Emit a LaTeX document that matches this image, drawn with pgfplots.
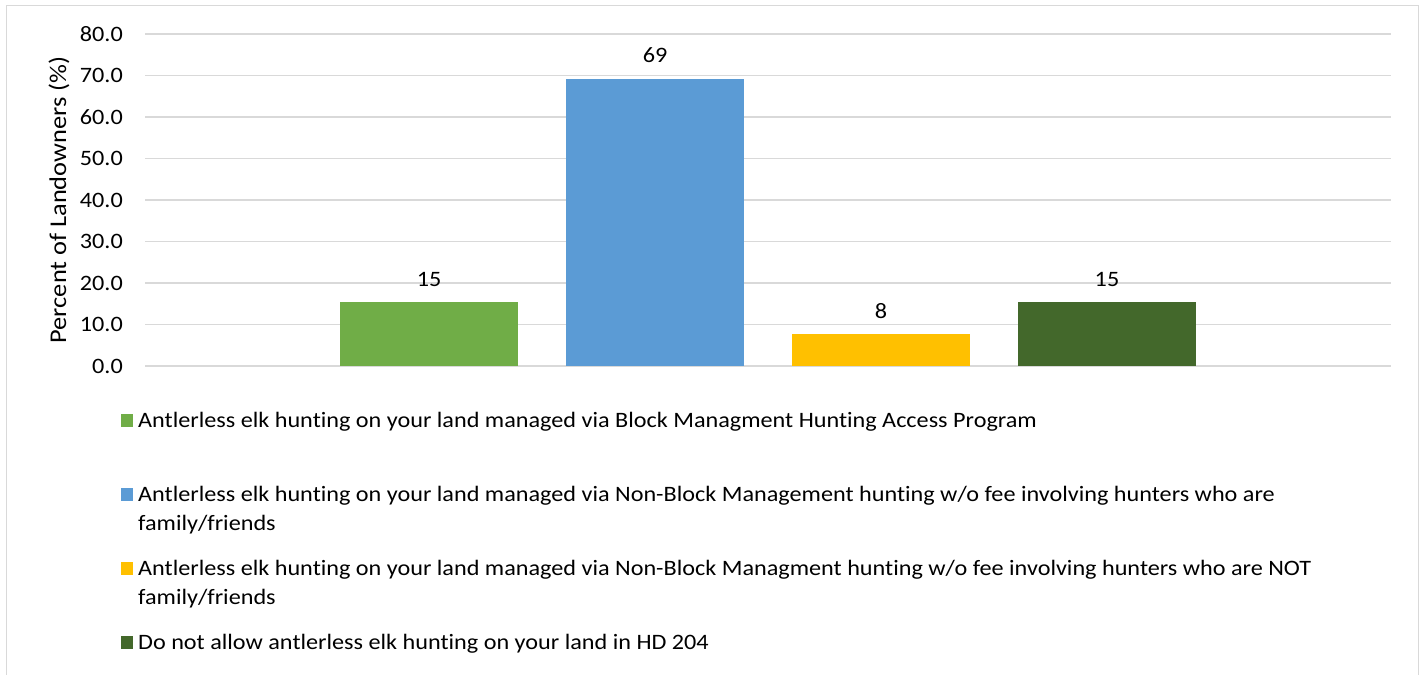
\documentclass[border=0pt]{standalone}
\usepackage{pgfplots}
\pgfplotsset{compat=1.18}
\usepackage{fontspec}
\setmainfont{Carlito}[FakeStretch=1.1, Ligatures=NoCommon]

\definecolor{cgreen}{HTML}{70AD47}
\definecolor{cblue}{HTML}{5B9BD5}
\definecolor{cgold}{HTML}{FFC000}
\definecolor{cdark}{HTML}{43682B}
\definecolor{gridgray}{HTML}{D9D9D9}

\newcommand{\chartfont}{\fontsize{22bp}{29bp}\selectfont}

\begin{document}
\begin{tikzpicture}[x=1bp,y=1bp]
\path[use as bounding box] (0,0) rectangle (1424,675);
\draw[gridgray, line width=1.2bp] (6.5,669.5) rectangle (1418.5,-20);
\begin{axis}[
    at={(145bp,309bp)}, anchor=south west,
    scale only axis,
    width=1246bp, height=332bp,
    xmin=-1.257, xmax=4.257,
    ymin=0, ymax=80,
    xtick=\empty,
    ytick={0,10,...,80},
    yticklabel={\pgfmathprintnumber[fixed,fixed zerofill,precision=1]{\tick}},
    /pgf/number format/assume math mode=true,
    yticklabel style={anchor=east, inner sep=0pt, xshift=-22bp, font=\chartfont},
    major tick length=0pt,
    axis line style={draw=none},
    ymajorgrids=true,
    grid style={gridgray, line width=1.2bp},
    ylabel={Percent of Landowners (\%)},
    ylabel style={at={(axis description cs:-0.069,0.5)}, anchor=center, font=\fontsize{24bp}{29bp}\selectfont},
    ybar, bar width=178bp, bar shift=0pt,
    nodes near coords={\pgfmathprintnumber[fixed,precision=0]{\pgfplotspointmeta}},
    every node near coord/.append style={anchor=base, inner sep=0pt, yshift=16bp, font=\chartfont, black},
    legend cell align=left,
    legend image code/.code={\path[#1,draw=none] (0bp,0bp) rectangle (12bp,13bp);},
    legend style={at={(axis description cs:-0.0193,-0.1226)}, anchor=north west,
        draw=none, fill=none, font=\chartfont, row sep=16bp, inner sep=0pt,
        cells={anchor=base west}, nodes={inner sep=0pt, text depth=},
        /tikz/every odd column/.append style={column sep=5bp}},
]
\addplot[fill=cgreen, draw=none] coordinates {(0,15.38)};
\addlegendentry{\begin{tabular}[t]{@{}l@{}}Antlerless elk hunting on your land managed via Block Managment Hunting Access Program\\ \mbox{}\end{tabular}}
\addplot[fill=cblue, draw=none] coordinates {(1,69.23)};
\addlegendentry{\begin{tabular}[t]{@{}l@{}}Antlerless elk hunting on your land managed via Non-Block Management hunting w/o fee involving hunters who are\\family/friends\end{tabular}}
\addplot[fill=cgold, draw=none] coordinates {(2,7.69)};
\addlegendentry{\begin{tabular}[t]{@{}l@{}}Antlerless elk hunting on your land managed via Non-Block Managment hunting w/o fee involving hunters who are NOT\\family/friends\end{tabular}}
\addplot[fill=cdark, draw=none] coordinates {(3,15.38)};
\addlegendentry{\begin{tabular}[t]{@{}l@{}}Do not allow antlerless elk hunting on your land in HD 204\end{tabular}}
\end{axis}
\end{tikzpicture}
\end{document}
